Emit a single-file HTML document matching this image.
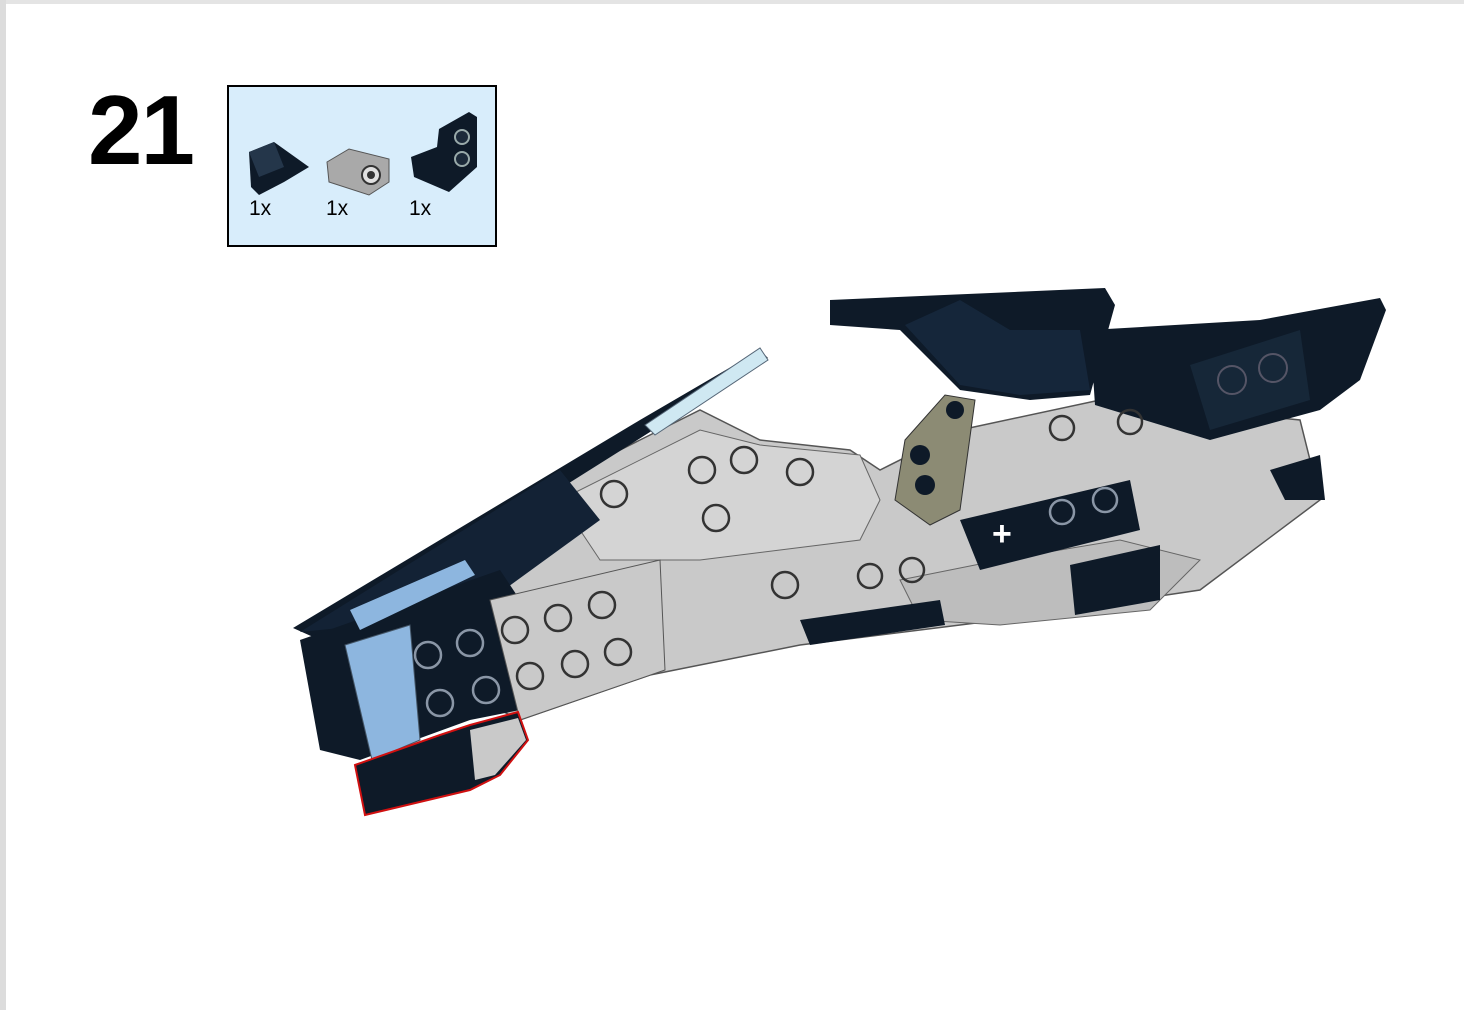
<!DOCTYPE html>
<html><head><meta charset="utf-8"><style>
html,body{margin:0;padding:0;background:#fff;}
body{width:1464px;height:1010px;position:relative;overflow:hidden;font-family:"Liberation Sans",sans-serif;}
.edge{position:absolute;left:0;top:0;width:6px;height:1010px;background:#dcdcdc;}
.top{position:absolute;left:0;top:0;width:1464px;height:4px;background:#e4e4e4;}
.num{position:absolute;left:88px;top:74px;font-size:98px;font-weight:bold;letter-spacing:-2px;color:#000;}
.box{position:absolute;left:227px;top:85px;width:266px;height:158px;background:#d8edfb;border:2px solid #000;}
.q{position:absolute;top:110px;font-size:21px;color:#000;}
</style></head><body>
<div class="top"></div><div class="edge"></div>
<div class="num">21</div>
<div class="box">
<svg width="266" height="158" style="position:absolute;left:0;top:0">
<polygon points="20,65 45,55 80,80 55,95 30,108 22,100" fill="#0e1a28"/>
<polygon points="20,65 45,55 55,80 30,90" fill="#24364a"/>
<polygon points="98,75 120,62 160,72 160,95 140,108 100,95" fill="#a9a9a9" stroke="#555"/>
<circle cx="142" cy="88" r="9" fill="#e0e0e0" stroke="#333" stroke-width="2"/>
<circle cx="142" cy="88" r="4" fill="#333"/>
<polygon points="182,70 208,60 210,42 240,25 248,30 248,80 220,105 185,90" fill="#0e1a28"/>
<circle cx="233" cy="50" r="7" fill="#1c2a3a" stroke="#9aa" stroke-width="2"/>
<circle cx="233" cy="72" r="7" fill="#1c2a3a" stroke="#9aa" stroke-width="2"/>
</svg>
<div class="q" style="left:20px">1x</div><div class="q" style="left:97px">1x</div><div class="q" style="left:180px">1x</div>
</div>
<svg width="1464" height="1010" style="position:absolute;left:0;top:0">
<!-- gray body -->
<polygon points="490,610 560,480 640,440 700,410 760,440 850,450 880,470 960,430 1100,400 1300,420 1320,500 1200,590 1000,620 800,645 650,675 520,720 480,700" fill="#c9c9c9" stroke="#555" stroke-width="1.5"/>
<polygon points="560,500 700,430 760,445 860,455 880,500 860,540 700,560 600,560" fill="#d4d4d4" stroke="#666"/>
<polygon points="900,580 1000,560 1120,540 1200,560 1150,610 1000,625 920,620" fill="#bdbdbd" stroke="#666"/>
<!-- long dark slab -->
<polygon points="293,628 640,420 760,350 768,358 650,432 320,640" fill="#0e1a28"/>
<polygon points="645,425 760,348 768,360 655,435" fill="#cfe8f2" stroke="#567"/>
<polygon points="300,632 560,470 600,520 490,600 420,620" fill="#132235"/>
<!-- dark wing top -->
<polygon points="830,300 1105,288 1115,305 1090,395 1030,400 960,390 930,360 900,330 830,325" fill="#0e1a28"/>
<polygon points="905,325 960,300 1010,330 1080,330 1090,390 1020,395 960,385" fill="#15263a"/>
<!-- right wing -->
<polygon points="1090,330 1260,320 1380,298 1386,310 1360,380 1320,410 1210,440 1095,405" fill="#0e1a28"/>
<polygon points="1190,365 1300,330 1310,400 1210,430" fill="#162738"/>
<circle cx="1232" cy="380" r="14" fill="none" stroke="#556" stroke-width="2"/>
<circle cx="1273" cy="368" r="14" fill="none" stroke="#556" stroke-width="2"/>
<polygon points="1270,470 1320,455 1325,500 1285,500" fill="#0e1a28"/>
<!-- mid dark beam -->
<polygon points="960,520 1130,480 1140,530 980,570" fill="#0e1a28"/>
<polygon points="1070,565 1160,545 1160,600 1075,615" fill="#0e1a28"/>
<polygon points="800,620 940,600 945,625 810,645" fill="#0e1a28"/>
<!-- tan plate -->
<polygon points="905,440 945,395 975,400 960,510 930,525 895,500" fill="#8c8b74" stroke="#333"/>
<circle cx="920" cy="455" r="10" fill="#0e1a28"/><circle cx="925" cy="485" r="10" fill="#0e1a28"/><circle cx="955" cy="410" r="9" fill="#0e1a28"/>
<!-- lower left dark block -->
<polygon points="300,640 500,570 520,600 520,710 470,720 360,760 320,750" fill="#0e1a28"/>
<polygon points="490,600 660,560 665,670 520,720" fill="#c9c9c9" stroke="#555"/>
<polygon points="345,645 410,625 420,740 372,760" fill="#8db6df" stroke="#456"/>
<polygon points="350,610 465,560 475,575 360,630" fill="#8db6df"/>
<polygon points="355,765 440,735 470,725 518,712 528,740 500,775 470,790 365,815" fill="#0e1a28" stroke="#d01010" stroke-width="2"/>
<polygon points="470,730 518,718 526,740 495,775 475,780" fill="#c9c9c9"/>
<!-- studs -->
<g fill="none" stroke="#333" stroke-width="2.5">
<circle cx="614" cy="494" r="13"/><circle cx="702" cy="470" r="13"/><circle cx="744" cy="460" r="13"/><circle cx="800" cy="472" r="13"/><circle cx="716" cy="518" r="13"/>
<circle cx="515" cy="630" r="13"/><circle cx="558" cy="618" r="13"/><circle cx="602" cy="605" r="13"/><circle cx="530" cy="676" r="13"/><circle cx="575" cy="664" r="13"/><circle cx="618" cy="652" r="13"/>
<circle cx="1062" cy="428" r="12"/><circle cx="1130" cy="422" r="12"/><circle cx="870" cy="576" r="12"/><circle cx="912" cy="570" r="12"/><circle cx="785" cy="585" r="13"/>
</g>
<g fill="none" stroke="#8a96a6" stroke-width="2.5">
<circle cx="428" cy="655" r="13"/><circle cx="470" cy="643" r="13"/><circle cx="440" cy="703" r="13"/><circle cx="486" cy="690" r="13"/><circle cx="1062" cy="512" r="12"/><circle cx="1105" cy="500" r="12"/>
</g>
<text x="992" y="545" font-size="34" font-weight="bold" fill="#fff" font-family="Liberation Sans">+</text>
</svg>
</body></html>
